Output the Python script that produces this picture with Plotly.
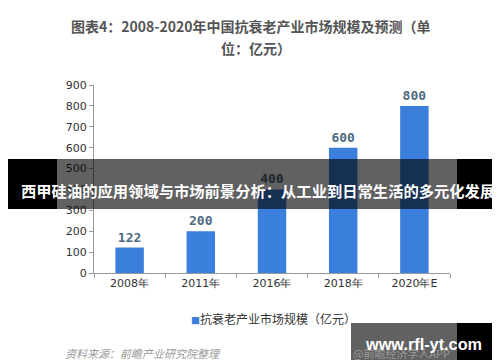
import plotly.graph_objects as go

categories = ["2008年", "2011年", "2016年", "2018年", "2020年E"]
values = [122, 200, 400, 600, 800]
y_ticks = [0, 100, 200, 300, 400, 500, 600, 700, 800, 900]
series_name = "抗衰老产业市场规模（亿元）"
title_line1 = "图表4：2008-2020年中国抗衰老产业市场规模及预测（单"
title_line2 = "位：亿元）"
source_text = "资料来源：前瞻产业研究院整理"
credit_text = "@前瞻经济学人APP"
banner_text = "西甲硅油的应用领域与市场前景分析：从工业到日常生活的多元化发展"
site_text = "www.rfl-yt.com"

BAR_COLOR = "#3b7fdc"
W, H = 500, 362
L, R, T, B = 86, 58, 77, 97
PW, PH = W - L - R, H - T - B

def px(x):
    return (x - L) / PW

def py(y):
    return (H - B - y) / PH

CJK = "Noto Sans CJK SC"

fig = go.Figure()
fig.add_trace(go.Bar(
    x=categories, y=values, name=series_name,
    marker=dict(color=BAR_COLOR, line=dict(width=0)),
    text=["<b>%d</b>" % v for v in values], textposition="outside",
    textfont=dict(family="DejaVu Sans Mono", size=13, color="#4e6a82"),
    cliponaxis=False, showlegend=False,
))

fig.update_layout(
    width=W, height=H,
    margin=dict(l=L, r=R, t=T, b=B),
    paper_bgcolor="white", plot_bgcolor="white",
    bargap=0.6,
    showlegend=False,
    xaxis=dict(showline=True, linecolor="#999", linewidth=1, ticks="outside",
               tickson="boundaries", ticklen=4, tickcolor="#999",
               tickfont=dict(family="DejaVu Sans", size=11, color="#333"),
               showgrid=False, fixedrange=True),
    yaxis=dict(range=[0, 900], tickvals=y_ticks, showline=True, linecolor="#999",
               linewidth=1, ticks="outside", ticklen=4, tickcolor="#999",
               tickfont=dict(family="DejaVu Sans", size=11, color="#333"),
               showgrid=False, zeroline=False, fixedrange=True),
)

ann = []
def text(t, x, y, size, color, family=CJK, anchor="center"):
    ann.append(dict(text=t, x=px(x), y=py(y), xref="paper", yref="paper", showarrow=False,
                    font=dict(family=family, size=size, color=color), xanchor=anchor, yanchor="middle"))

text("<b>" + title_line1 + "</b>", 243, 18, 14, "#555")
text("<b>" + title_line2 + "</b>", 248, 40, 14, "#555")
text('<span style="color:%s;font-size:9px">■</span>%s' % (BAR_COLOR, series_name), 181, 310, 12, "#333", anchor="left")
text("<i>" + source_text + "</i>", 55, 345, 11, "#999", anchor="left")
text(credit_text, 343, 345, 11, "#999", anchor="left")
text("<b>" + banner_text + "</b>", 250, 182, 15.3, "white")
text("<b>" + site_text + "</b>", 415, 336, 16.3, "white", family="Liberation Sans")

shapes = []
def rect(x0, y0, x1, y1, color):
    shapes.append(dict(type="rect", xref="paper", yref="paper", x0=px(x0), x1=px(x1),
                       y0=py(y1), y1=py(y0), fillcolor=color, line=dict(width=0), layer="above"))

rect(0, 151, 500, 201, "rgba(0,0,0,0.62)")
rect(0, 151, 49, 201, "black")
rect(449, 151, 500, 201, "black")
rect(343, 315, 449, 352, "rgba(0,0,0,0.62)")
rect(449, 315, 490, 352, "black")

fig.update_layout(annotations=ann, shapes=shapes)
fig.write_html("out.html")
